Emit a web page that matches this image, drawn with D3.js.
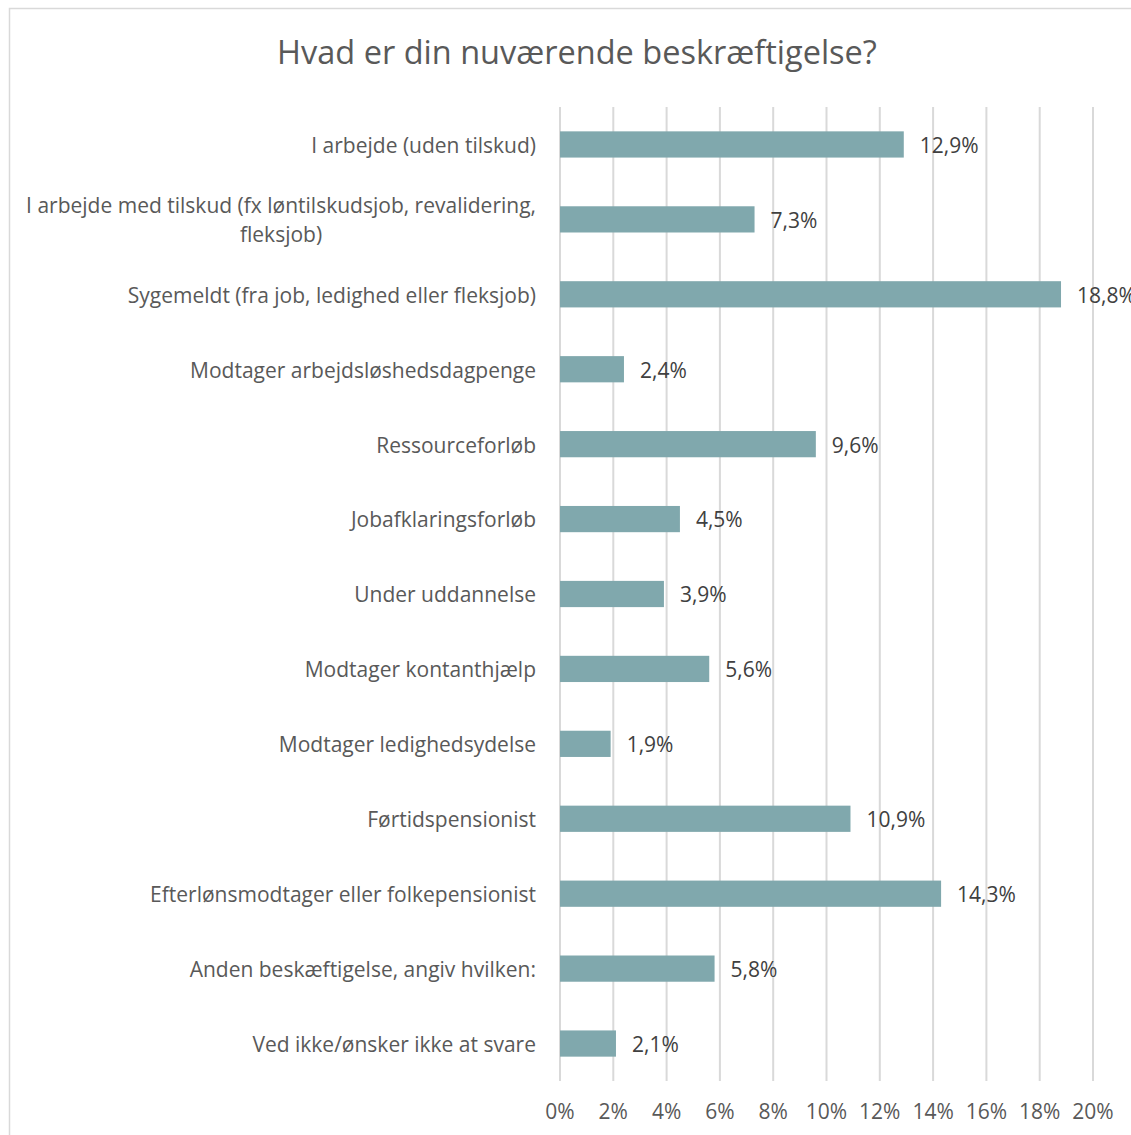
<!DOCTYPE html>
<html>
<head>
<meta charset="utf-8">
<script src="https://cdn.jsdelivr.net/npm/d3@7"></script>
<style>
  body { margin: 0; background: #fff; }
  text { font-family: "Open Sans", Lato, sans-serif; }
</style>
</head>
<body>
<script>
var categories = [
  "I arbejde (uden tilskud)",
  "I arbejde med tilskud (fx løntilskudsjob, revalidering,|fleksjob)",
  "Sygemeldt (fra job, ledighed eller fleksjob)",
  "Modtager arbejdsløshedsdagpenge",
  "Ressourceforløb",
  "Jobafklaringsforløb",
  "Under uddannelse",
  "Modtager kontanthjælp",
  "Modtager ledighedsydelse",
  "Førtidspensionist",
  "Efterlønsmodtager eller folkepensionist",
  "Anden beskæftigelse, angiv hvilken:",
  "Ved ikke/ønsker ikke at svare"
];
var values = [12.9, 7.3, 18.8, 2.4, 9.6, 4.5, 3.9, 5.6, 1.9, 10.9, 14.3, 5.8, 2.1];
var ticks = [0, 2, 4, 6, 8, 10, 12, 14, 16, 18, 20];
var title = "Hvad er din nuværende beskræftigelse?";

var width = 1131, height = 1135;
var margin = {top: 107, left: 560, right: 38, bottom: 54};

var svg = d3.select("body").append("svg")
    .attr("width", width)
    .attr("height", height);

// chart frame (runs off the right and bottom edge)
svg.append("rect")
    .attr("x", 9.5).attr("y", 8.5)
    .attr("width", width + 20).attr("height", height + 20)
    .attr("fill", "#fff")
    .attr("stroke", "#d9d9d9")
    .attr("stroke-width", 1.5);

var x = d3.scaleLinear()
    .domain([0, 20])
    .range([margin.left, width - margin.right]);

var y = d3.scaleBand()
    .domain(categories)
    .range([margin.top, height - margin.bottom])
    .paddingInner(0.65)
    .paddingOuter(0.325);

svg.append("text")
    .attr("x", 577)
    .attr("y", 64)
    .attr("text-anchor", "middle")
    .attr("fill", "#595959")
    .style("font-size", "32.5px")
    .text(title);

// gridlines
svg.append("g")
    .selectAll("line")
    .data(ticks)
    .join("line")
    .attr("x1", d => x(d)).attr("x2", d => x(d))
    .attr("y1", margin.top).attr("y2", height - margin.bottom)
    .attr("stroke", "#d9d9d9")
    .attr("stroke-width", 2);

// tick labels
svg.append("g")
    .selectAll("text")
    .data(ticks)
    .join("text")
    .attr("x", d => x(d))
    .attr("y", 1112)
    .attr("dy", "0.35em")
    .attr("text-anchor", "middle")
    .attr("fill", "#595959")
    .style("font-size", "21px")
    .text(d => d + "%");

// bars
svg.append("g")
    .selectAll("rect")
    .data(values)
    .join("rect")
    .attr("x", x(0))
    .attr("y", (d, i) => y(categories[i]))
    .attr("width", d => x(d) - x(0))
    .attr("height", y.bandwidth())
    .attr("fill", "#80a8ad");

// value labels
svg.append("g")
    .selectAll("text")
    .data(values)
    .join("text")
    .attr("x", d => x(d) + 16)
    .attr("y", (d, i) => y(categories[i]) + y.bandwidth() / 2 + 1)
    .attr("dy", "0.35em")
    .attr("fill", "#404040")
    .style("font-size", "21px")
    .text(d => d.toFixed(1).replace(".", ",") + "%");

// category labels, multi-line ones centred on each other
var labelRight = 536;
categories.forEach(function(c, i) {
    var lines = c.split("|");
    var cy = y(c) + y.bandwidth() / 2 + 1;
    var g = svg.append("g");
    var txt = g.selectAll("text")
        .data(lines)
        .join("text")
        .attr("y", (d, j) => cy + (j - (lines.length - 1) / 2) * 29)
        .attr("dy", "0.35em")
        .attr("fill", "#595959")
        .style("font-size", "21px")
        .text(d => d);
    var maxW = d3.max(txt.nodes(), n => n.getComputedTextLength());
    txt.attr("x", labelRight - maxW / 2).attr("text-anchor", "middle");
});
</script>
</body>
</html>
